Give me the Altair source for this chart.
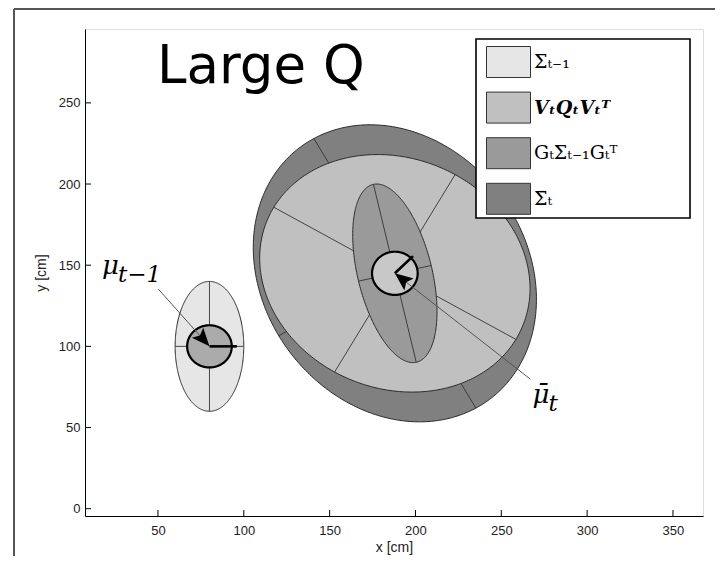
import math
import numpy as np
import pandas as pd
import altair as alt

# ---------------- data ----------------
x_ticks = [50, 100, 150, 200, 250, 300, 350]
y_ticks = [0, 50, 100, 150, 200, 250]
x_domain = [7.5, 367.5]
y_domain = [-4.5, 295.5]

# legend (scale) order
legend_labels = ["Σₜ₋₁", "VₜQₜVₜᵀ", "GₜΣₜ₋₁Gₜᵀ", "Σ̄ₜ"]
legend_colors = ["#e6e6e6", "#c0c0c0", "#9a9a9a", "#808080"]

# covariance ellipses, in drawing order (outermost first)
ell_label = ["Σ̄ₜ", "VₜQₜVₜᵀ", "GₜΣₜ₋₁Gₜᵀ", "Σₜ₋₁"]
ell_cx = [188.0, 188.0, 188.0, 80.0]
ell_cy = [145.0, 145.0, 145.0, 100.0]
ell_major = [95.5, 81.4, 56.2, 40.0]
ell_minor = [77.8, 70.2, 21.7, 20.0]
ell_angle = [119.6, -30.0, 102.8, 90.0]

# robot poses (mean)
pose_name = ["mu_prev", "mu_bar"]
pose_x = [80.0, 188.0]
pose_y = [100.0, 145.0]
pose_r = [13.0, 13.3]
pose_fill = ["#ababab", "#c8c8c8"]
pose_heading = [0.0, 45.0]
pose_heading_len = [16.0, 15.0]

# annotations
ann_main = ["μ", "μ̄"]
ann_sub = ["t−1", "t"]
ann_text_x = [17.4, 268.2]
ann_text_y = [144.6, 65.1]
ann_line_x = [50.3, 266.9]
ann_line_y = [135.2, 79.8]
arrow_angle = [48.7, 218.1]

title_text = ["Large Q"]

# ---------------- geometry helpers ----------------
def ellipse_band(name, cx, cy, a, b, ang_deg, n=181):
    th = math.radians(ang_deg)
    c, s = math.cos(th), math.sin(th)
    sxx = a * a * c * c + b * b * s * s
    syy = a * a * s * s + b * b * c * c
    sxy = (a * a - b * b) * s * c
    det = sxx * syy - sxy * sxy
    t = np.linspace(0, math.pi, n)
    dx = math.sqrt(sxx) * np.cos(t)
    yc = cy + sxy / sxx * dx
    hh = math.sqrt(det / sxx) * np.sin(t)
    return pd.DataFrame({"label": name, "x": cx + dx, "ylo": yc - hh, "yhi": yc + hh})


ell_df = pd.concat([
    ellipse_band(n, cx, cy, a, b, g)
    for n, cx, cy, a, b, g in zip(ell_label, ell_cx, ell_cy, ell_major, ell_minor, ell_angle)
], ignore_index=True)

axis_rows = []
for n, cx, cy, a, b, g in zip(ell_label, ell_cx, ell_cy, ell_major, ell_minor, ell_angle):
    for length, ang in ((a, g), (b, g + 90)):
        th = math.radians(ang)
        axis_rows.append({"label": n,
                          "x1": cx - length * math.cos(th), "y1": cy - length * math.sin(th),
                          "x2": cx + length * math.cos(th), "y2": cy + length * math.sin(th)})
axes_df = pd.DataFrame(axis_rows)

pose_df = pd.concat([
    ellipse_band(n, x, y, r, r, 0).assign(fill=f)
    for n, x, y, r, f in zip(pose_name, pose_x, pose_y, pose_r, pose_fill)
], ignore_index=True)

head_df = pd.DataFrame({
    "x1": pose_x, "y1": pose_y,
    "x2": [x + L * math.cos(math.radians(h)) for x, L, h in zip(pose_x, pose_heading_len, pose_heading)],
    "y2": [y + L * math.sin(math.radians(h)) for y, L, h in zip(pose_y, pose_heading_len, pose_heading)],
})

ann_df = pd.DataFrame({
    "main": ann_main, "sub": ann_sub, "tx": ann_text_x, "ty": ann_text_y,
    "lx": ann_line_x, "ly": ann_line_y, "px": pose_x, "py": pose_y, "ang": arrow_angle,
})

# ---------------- encodings ----------------
FONT = "Liberation Sans"
x_axis = alt.Axis(values=x_ticks, ticks=False, grid=False, domainColor="black", domainWidth=1,
                  labelFont=FONT, labelFontSize=13, labelColor="#222", labelPadding=8,
                  labelFlush=False, title="x [cm]", titleFont=FONT, titleFontSize=14,
                  titleFontWeight="normal", titleColor="#222", titlePadding=3)
y_axis = alt.Axis(values=y_ticks, ticks=False, grid=False, domainColor="black", domainWidth=1,
                  labelFont=FONT, labelFontSize=13, labelColor="#222", labelPadding=5,
                  labelFlush=False, title="y [cm]", titleFont=FONT, titleFontSize=14,
                  titleFontWeight="normal", titleColor="#222", titlePadding=10)
xs = alt.Scale(domain=x_domain, nice=False, zero=False)
ys = alt.Scale(domain=y_domain, nice=False, zero=False)


def X(f):
    return alt.X(f"{f}:Q", scale=xs, axis=x_axis)


def Y(f):
    return alt.Y(f"{f}:Q", scale=ys, axis=y_axis)


bold_expr = "datum.label == 'VₜQₜVₜᵀ' ? 'bold' : 'normal'"
style_expr = "datum.label == 'VₜQₜVₜᵀ' ? 'italic' : 'normal'"
legend = alt.Legend(
    title=None, orient="none", legendX=391, legendY=12.5, padding=0,
    symbolType="M-0.5,-0.775H1.7V0.775H-0.5Z", symbolSize=1600,
    symbolStrokeColor="#333", symbolStrokeWidth=1, symbolOpacity=1,
    rowPadding=7.6, labelOffset=17, labelFont="DejaVu Serif", labelFontSize=19,
    labelColor="black", labelFontWeight=alt.ExprRef(bold_expr),
    labelFontStyle=alt.ExprRef(style_expr), labelLimit=300,
)
color = alt.Color("label:N", scale=alt.Scale(domain=legend_labels, range=legend_colors), legend=legend)

layers = []
for name in ell_label:
    layers.append(
        alt.Chart(ell_df).transform_filter(alt.datum.label == name)
        .mark_area(stroke="#2a2a2a", strokeWidth=1, opacity=1)
        .encode(x=X("x"), y=Y("ylo"), y2="yhi", color=color)
    )
    layers.append(
        alt.Chart(axes_df).transform_filter(alt.datum.label == name)
        .mark_rule(color="#333", strokeWidth=0.9)
        .encode(x=X("x1"), x2="x2", y=Y("y1"), y2="y2")
    )

layers.append(
    alt.Chart(pose_df).mark_area(stroke="black", strokeWidth=2.2, opacity=1)
    .encode(x=X("x"), y=Y("ylo"), y2="yhi", detail="label:N",
            fill=alt.Fill("fill:N", scale=None))
)
layers.append(
    alt.Chart(head_df).mark_rule(color="black", strokeWidth=2.6)
    .encode(x=X("x1"), x2="x2", y=Y("y1"), y2="y2")
)
layers.append(
    alt.Chart(ann_df).mark_rule(color="#555", strokeWidth=1)
    .encode(x=X("lx"), x2="px", y=Y("ly"), y2="py")
)
layers.append(
    alt.Chart(ann_df).mark_point(shape="M0,0L-1,-0.42L-0.8,0L-1,0.42Z", size=1300,
                                 filled=True, fill="black", opacity=1, strokeWidth=0)
    .encode(x=X("px"), y=Y("py"), angle=alt.Angle("ang:Q", scale=None))
)
layers.append(
    alt.Chart(ann_df).mark_text(font="DejaVu Serif", fontStyle="italic", fontSize=26,
                                align="left", baseline="alphabetic", color="black")
    .encode(x=X("tx"), y=Y("ty"), text="main:N")
)
layers.append(
    alt.Chart(ann_df).mark_text(font="DejaVu Serif", fontStyle="italic", fontSize=23,
                                align="left", baseline="alphabetic", color="black", dx=16, dy=8)
    .encode(x=X("tx"), y=Y("ty"), text="sub:N")
)

# inward ticks
layers.append(
    alt.Chart(pd.DataFrame({"v": x_ticks})).mark_rule(color="black", strokeWidth=1)
    .encode(x=X("v"), y=alt.value(487), y2=alt.value(481))
)
layers.append(
    alt.Chart(pd.DataFrame({"v": y_ticks})).mark_rule(color="black", strokeWidth=1)
    .encode(y=Y("v"), x=alt.value(0), x2=alt.value(6))
)

one = alt.Data(values=[{"k": 1}])
# legend box
layers.append(
    alt.Chart(one).mark_rect(fill="white", stroke="black", strokeWidth=1.6)
    .encode(x=alt.value(391), x2=alt.value(605), y=alt.value(10), y2=alt.value(189))
)
# title inside the axes
layers.append(
    alt.Chart(pd.DataFrame({"t": title_text})).mark_text(
        font="DejaVu Sans", fontSize=53, align="left", baseline="alphabetic", color="black")
    .encode(text="t:N", x=alt.value(72), y=alt.value(54))
)
# slide frame
layers.append(
    alt.Chart(one).mark_rule(color="#555", strokeWidth=2)
    .encode(x=alt.value(-71), y=alt.value(-20), y2=alt.value(560))
)
layers.append(
    alt.Chart(one).mark_rule(color="#555", strokeWidth=2)
    .encode(x=alt.value(-71), x2=alt.value(640), y=alt.value(-20))
)

chart = alt.layer(*layers).properties(
    width=618, height=487,
    autosize=alt.AutoSizeParams(type="none"),
    padding={"left": 77, "top": 21, "right": 12, "bottom": 40},
).configure_view(stroke=None).configure(background="white")

chart.save("out.html", embed_options={"renderer": "svg", "actions": False})
